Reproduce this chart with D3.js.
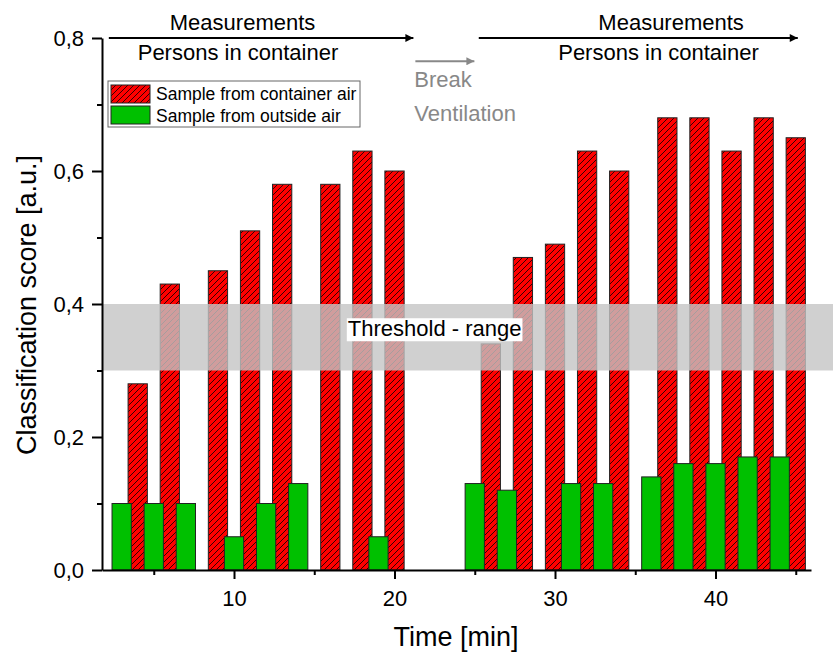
<!DOCTYPE html>
<html>
<head>
<meta charset="utf-8">
<script src="https://cdn.jsdelivr.net/npm/d3@7"></script>
<style>
  html, body { margin: 0; padding: 0; background: #fff; }
  svg { display: block; font-family: "Liberation Sans", Arial, sans-serif; }
</style>
</head>
<body>
<svg id="chart" width="833" height="652"></svg>
<script>
// Classification score of air samples over time (minutes)
const containerTimes  = [4, 6, 9, 11, 13, 16, 18, 20, 26, 28, 30, 32, 34, 37, 39, 41, 43, 45];
const containerScores = [0.28, 0.43, 0.45, 0.51, 0.58, 0.58, 0.63, 0.60, 0.34, 0.47, 0.49, 0.63, 0.60, 0.68, 0.68, 0.63, 0.68, 0.65];
const outsideTimes    = [3, 5, 7, 10, 12, 14, 19, 25, 27, 31, 33, 36, 38, 40, 42, 44];
const outsideScores   = [0.10, 0.10, 0.10, 0.05, 0.10, 0.13, 0.05, 0.13, 0.12, 0.13, 0.13, 0.14, 0.16, 0.16, 0.17, 0.17];

const xMajorTicks = [10, 20, 30, 40];
const xMinorTicks = [5, 15, 25, 35, 45];
const yMajorTicks = [0, 0.2, 0.4, 0.6, 0.8];
const yMinorTicks = [0.1, 0.3, 0.5, 0.7];
const thresholdRange = [0.3, 0.4];
const seriesNames = ["Sample from container air", "Sample from outside air"];

// Phase annotations (time in minutes, score level)
const phases = [
  { from: 2.2, to: 21.3, level: 0.8, top: "Measurements", bottom: "Persons in container", topAt: 6.0, bottomAt: 4.0 },
  { from: 25.25, to: 45.25, level: 0.8, top: "Measurements", bottom: "Persons in container", topAt: 32.7, bottomAt: 30.2 }
];
const breakPhase = { from: 21.3, to: 25.1, level: 0.765, lines: ["Break", "Ventilation"] };

const barWidth = 1.2; // minutes

const svg = d3.select("#chart");
const x = d3.scaleLinear().domain([1.775, 45.95]).range([102, 811]);
const y = d3.scaleLinear().domain([0, 0.8]).range([570, 38]);

const defs = svg.append("defs");
const hatch = defs.append("pattern")
  .attr("id", "hatch").attr("patternUnits", "userSpaceOnUse")
  .attr("width", 6).attr("height", 6);
hatch.append("rect").attr("width", 6).attr("height", 6).attr("fill", "#ff0000");
hatch.append("path").attr("d", "M-1,1 L1,-1 M0,6 L6,0 M5,7 L7,5")
  .attr("stroke", "#000").attr("stroke-width", 0.8);

const red = containerTimes.map((t, i) => ({ t, v: containerScores[i] }));
const green = outsideTimes.map((t, i) => ({ t, v: outsideScores[i] }));
const bw = x(barWidth) - x(0);

// container air bars (hatched red)
svg.append("g").selectAll("rect").data(red).join("rect")
  .attr("x", d => x(d.t) - bw / 2).attr("width", bw)
  .attr("y", d => y(d.v)).attr("height", d => y(0) - y(d.v))
  .attr("fill", "url(#hatch)").attr("stroke", "#222").attr("stroke-width", 1);

// outside air bars (green)
svg.append("g").selectAll("rect").data(green).join("rect")
  .attr("x", d => x(d.t) - bw / 2).attr("width", bw)
  .attr("y", d => y(d.v)).attr("height", d => y(0) - y(d.v))
  .attr("fill", "#00c000").attr("stroke", "#222").attr("stroke-width", 1);

// threshold band
svg.append("rect")
  .attr("x", x.range()[0]).attr("width", 833 - x.range()[0])
  .attr("y", y(thresholdRange[1])).attr("height", y(thresholdRange[0]) - y(thresholdRange[1]))
  .attr("fill", "rgb(196,196,196)").attr("opacity", 0.8);

const thLabel = svg.append("g");
const thText = thLabel.append("text")
  .attr("x", x(22.5)).attr("y", y(0.35) - 1)
  .attr("text-anchor", "middle").attr("font-size", 22).attr("fill", "#000")
  .text("Threshold - range");
const bb = thText.node().getBBox();
thLabel.insert("rect", "text")
  .attr("x", bb.x - 1).attr("y", bb.y + 2).attr("width", bb.width + 2).attr("height", bb.height - 2)
  .attr("fill", "#fff");

// axes
const fmt = d => d3.format(".1f")(d).replace(".", ",");
const yAxis = svg.append("g").attr("transform", `translate(${x.range()[0]},0)`)
  .call(d3.axisLeft(y).tickValues(yMajorTicks).tickFormat(fmt).tickSize(10).tickSizeOuter(0).tickPadding(8));
svg.append("g").attr("transform", `translate(${x.range()[0]},0)`)
  .call(d3.axisLeft(y).tickValues(yMinorTicks).tickFormat("").tickSize(5).tickSizeOuter(0))
  .call(g => g.select(".domain").remove());
const xAxis = svg.append("g").attr("transform", `translate(0,${y(0)})`)
  .call(d3.axisBottom(x).tickValues(xMajorTicks).tickSize(9).tickSizeOuter(0).tickPadding(11));
svg.append("g").attr("transform", `translate(0,${y(0)})`)
  .call(d3.axisBottom(x).tickValues(xMinorTicks).tickFormat("").tickSize(5).tickSizeOuter(0))
  .call(g => g.select(".domain").remove());

svg.selectAll(".domain").attr("stroke", "#000").attr("stroke-width", 2);
svg.selectAll(".tick line").attr("stroke", "#000").attr("stroke-width", 2);
svg.selectAll(".tick text").attr("font-size", 22).attr("fill", "#000")
  .attr("font-family", "\"Liberation Sans\", Arial, sans-serif");

// axis titles
svg.append("text").attr("x", 456).attr("y", 646)
  .attr("text-anchor", "middle").attr("font-size", 27).text("Time [min]");
svg.append("text").attr("transform", "translate(36,305) rotate(-90)")
  .attr("text-anchor", "middle").attr("font-size", 27).text("Classification score [a.u.]");

// phase arrows
defs.append("marker").attr("id", "headBlack").attr("viewBox", "0 0 10 10")
  .attr("refX", 10).attr("refY", 5).attr("markerWidth", 15).attr("markerHeight", 8)
  .attr("markerUnits", "userSpaceOnUse").attr("orient", "auto")
  .append("path").attr("d", "M0,0 L10,5 L0,10 Z").attr("fill", "#000");
defs.append("marker").attr("id", "headGray").attr("viewBox", "0 0 10 10")
  .attr("refX", 10).attr("refY", 5).attr("markerWidth", 15).attr("markerHeight", 8)
  .attr("markerUnits", "userSpaceOnUse").attr("orient", "auto")
  .append("path").attr("d", "M0,0 L10,5 L0,10 Z").attr("fill", "#888");

phases.forEach(p => {
  svg.append("line")
    .attr("x1", x(p.from)).attr("x2", x(p.to) - 2)
    .attr("y1", y(p.level)).attr("y2", y(p.level))
    .attr("stroke", "#000").attr("stroke-width", 2).attr("marker-end", "url(#headBlack)");
  svg.append("text").attr("x", x(p.topAt)).attr("y", y(p.level) - 8)
    .attr("font-size", 22).text(p.top);
  svg.append("text").attr("x", x(p.bottomAt)).attr("y", y(p.level) + 22)
    .attr("font-size", 22).text(p.bottom);
});

svg.append("line")
  .attr("x1", x(breakPhase.from)).attr("x2", x(breakPhase.to) - 2)
  .attr("y1", y(breakPhase.level)).attr("y2", y(breakPhase.level))
  .attr("stroke", "#888").attr("stroke-width", 2).attr("marker-end", "url(#headGray)");
breakPhase.lines.forEach((line, i) => {
  svg.append("text").attr("x", x(breakPhase.from) - 1).attr("y", y(breakPhase.level) + 26 + i * 33.5)
    .attr("font-size", 22).attr("fill", "#888").text(line);
});

// legend
const legend = svg.append("g").attr("transform", "translate(108,81)");
legend.append("rect").attr("width", 252).attr("height", 46)
  .attr("fill", "#fff").attr("stroke", "#666").attr("stroke-width", 1);
const legendFills = ["url(#hatch)", "#00c000"];
seriesNames.forEach((name, i) => {
  legend.append("rect").attr("x", 3).attr("y", 4 + i * 21).attr("width", 39).attr("height", 18)
    .attr("fill", legendFills[i]).attr("stroke", "#222").attr("stroke-width", 1);
  legend.append("text").attr("x", 48).attr("y", 19 + i * 21.5)
    .attr("font-size", 17.5).attr("fill", "#000").text(name);
});
</script>
</body>
</html>
